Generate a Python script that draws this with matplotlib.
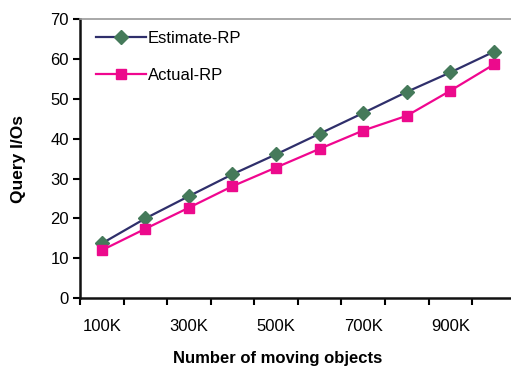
import matplotlib
matplotlib.use("Agg")
import matplotlib.pyplot as plt
import numpy as np

plt.rcParams['font.family'] = ['Liberation Sans', 'DejaVu Sans']

categories = ['100K', '200K', '300K', '400K', '500K', '600K', '700K', '800K', '900K', '1000K']
estimate_rp = [13.7, 20.0, 25.6, 31.1, 36.1, 41.3, 46.5, 51.8, 56.7, 61.9]
actual_rp = [12.0, 17.4, 22.7, 28.1, 32.8, 37.5, 42.1, 45.8, 52.1, 58.7]
y_ticks = [0, 10, 20, 30, 40, 50, 60, 70]

fig = plt.figure(figsize=(5.11, 3.69), dpi=100)
ax = fig.add_axes([80 / 511, 71 / 369, 435.7 / 511, 278.5 / 369])

x = np.arange(len(categories))
ax.plot(x, estimate_rp, color='#2f2f6b', lw=1.6, marker='D', ms=7,
        mfc='#457a5a', mec='#457a5a', label='Estimate-RP')
ax.plot(x, actual_rp, color='#f0068f', lw=1.6, marker='s', ms=7.5,
        mfc='#ec0a8c', mec='#ec0a8c', label='Actual-RP')

ax.set_xlim(-0.5, len(categories) - 0.5)
ax.set_ylim(0, 70)
ax.set_yticks(y_ticks)
ax.tick_params(axis='y', direction='out', length=5, width=1.5, labelsize=12, pad=3)

# labels on every other category, tick marks at category boundaries
ax.set_xticks(x[::2])
ax.set_xticklabels(categories[::2])
ax.set_xticks(np.arange(len(categories) + 1) - 0.5, minor=True)
ax.tick_params(axis='x', which='major', length=0, labelsize=12, pad=15)
ax.tick_params(axis='x', which='minor', direction='out', length=5, width=1.5)

for side in ('left', 'bottom'):
    ax.spines[side].set_linewidth(1.8)
    ax.spines[side].set_color('#111111')
ax.spines['top'].set_color('#999999')
ax.spines['top'].set_linewidth(1.2)
ax.spines['right'].set_visible(False)

ax.set_ylabel('Query I/Os', fontsize=12.5, fontweight='bold')
ax.yaxis.set_label_coords(-54 / 435.7, 0.5)
ax.set_xlabel('Number of moving objects', fontsize=12, fontweight='bold')
ax.xaxis.set_label_coords(198 / 435.7, -53 / 278.5)

leg = ax.legend(loc='upper left', frameon=False, fontsize=12, handlelength=3.0,
                labelspacing=1.3, borderaxespad=0.3, handletextpad=0.1,
                bbox_to_anchor=(0.01, 1.0))

fig.savefig('out.png', dpi=100)
